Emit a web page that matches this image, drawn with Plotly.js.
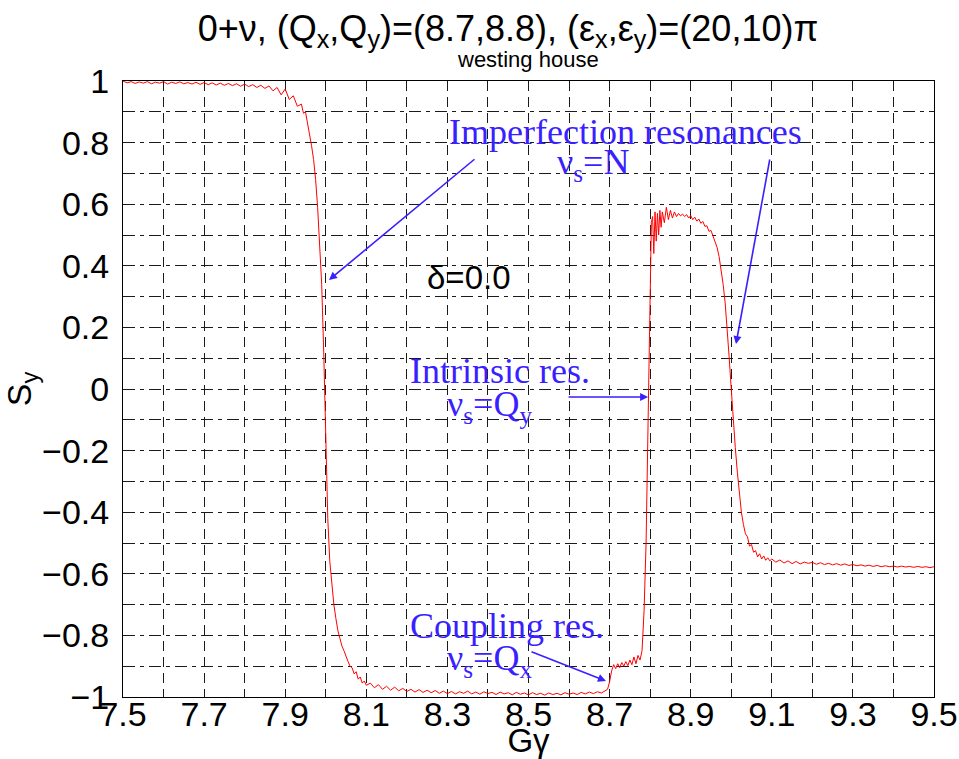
<!DOCTYPE html>
<html>
<head>
<meta charset="utf-8">
<script src="https://cdn.plot.ly/plotly-3.0.1.min.js"></script>
<style>html,body{margin:0;padding:0;background:#fff;}#chart{width:959px;height:759px;}</style>
</head>
<body>
<div id="chart"></div>
<script>
// Top plateau
const xTop = [7.50,7.51,7.52,7.53,7.54,7.55,7.56,7.57,7.58,7.59,7.60,7.61,7.62,7.63,7.64,7.65,7.66,7.67,7.68,7.69,7.70,7.71,7.72,7.73,7.74,7.75,7.76,7.77,7.78,7.79,7.80,7.81,7.82,7.83,7.84,7.85];
const yTop = [1.000,0.994,0.998,0.992,0.997,0.993,0.998,0.991,0.996,0.993,0.998,0.990,0.996,0.992,0.997,0.991,0.995,0.990,0.996,0.989,0.995,0.988,0.994,0.987,0.993,0.986,0.992,0.985,0.991,0.983,0.990,0.982,0.988,0.979,0.986,0.976];
// First imperfection resonance (drop)
const xDrop = [7.86,7.87,7.88,7.89,7.90,7.91,7.92,7.93,7.94,7.945,7.95,7.955,7.96,7.965,7.97,7.975,7.98,7.985,7.99,7.995,8.00,8.005,8.01,8.015,8.02,8.025,8.03,8.035,8.04,8.045,8.05,8.055,8.06,8.065,8.07,8.075,8.08,8.085,8.09,8.095,8.10];
const yDrop = [0.984,0.968,0.979,0.955,0.974,0.940,0.952,0.918,0.925,0.895,0.900,0.865,0.835,0.790,0.745,0.680,0.590,0.470,0.340,0.120,-0.160,-0.420,-0.560,-0.640,-0.700,-0.745,-0.785,-0.810,-0.835,-0.850,-0.870,-0.885,-0.900,-0.905,-0.925,-0.918,-0.942,-0.935,-0.955,-0.948,-0.962];
// Bottom plateau
const xBottom = [8.11,8.12,8.13,8.14,8.15,8.16,8.17,8.18,8.19,8.20,8.21,8.22,8.23,8.24,8.25,8.26,8.27,8.28,8.29,8.30,8.31,8.32,8.33,8.34,8.35,8.36,8.37,8.38,8.39,8.40,8.41,8.42,8.43,8.44,8.45,8.46,8.47,8.48,8.49,8.50,8.51,8.52,8.53,8.54,8.55,8.56,8.57,8.58,8.59,8.60,8.61,8.62,8.63,8.64,8.65,8.66,8.67,8.68,8.69];
const yBottom = [-0.955,-0.970,-0.960,-0.975,-0.965,-0.978,-0.968,-0.980,-0.972,-0.982,-0.975,-0.984,-0.976,-0.985,-0.978,
  -0.986,-0.979,-0.988,-0.981,-0.989,-0.982,-0.990,-0.983,-0.988,-0.981,
  -0.990,-0.984,-0.991,-0.983,-0.989,-0.985,-0.992,-0.984,-0.990,-0.986,
  -0.993,-0.985,-0.991,-0.987,-0.993,-0.986,-0.992,-0.988,-0.994,-0.987,
  -0.992,-0.988,-0.993,-0.986,-0.991,-0.987,-0.992,-0.985,-0.990,-0.984,
  -0.989,-0.983,-0.987,-0.980];
// Coupling resonance step and shelf
const xShelf = [8.695,8.700,8.705,8.710,8.715,8.720,8.725,8.730,8.735,8.740,8.745,8.750,8.755,8.760,8.765,8.770,8.775,8.780,8.785,8.790,8.795];
const yShelf = [-0.975,-0.950,-0.915,-0.895,-0.908,-0.892,-0.905,-0.888,-0.900,-0.885,-0.898,-0.880,-0.895,-0.870,-0.892,-0.865,-0.880,-0.850,-0.720,-0.500,-0.100];
// Upper plateau after intrinsic resonance
const xUpper = [8.800,8.803,8.806,8.809,8.812,8.815,8.818,8.821,8.824,8.827,8.830,8.835,8.840,8.845,8.850,8.855,8.860,8.865,8.870,8.875,8.880,8.885,8.890,8.895,8.900,8.905,8.910,8.915,8.920,8.925,8.930,8.935,8.940,8.945,8.950,8.955,8.960];
const yUpper = [0.400,0.540,0.560,0.440,0.575,0.480,0.570,0.500,0.580,0.525,0.575,0.540,0.590,0.550,0.580,0.555,0.575,0.560,0.570,0.562,0.568,0.560,0.566,0.555,0.563,0.550,0.558,0.545,0.552,0.538,0.544,0.528,0.530,0.512,0.515,0.495,0.480];
// Second imperfection resonance (fall)
const xFall = [8.965,8.970,8.975,8.980,8.985,8.990,8.995,9.000,9.005,9.010,9.015,9.020,9.025,9.030,9.035,9.040,9.045,9.050,9.055,9.060,9.065,9.070,9.075,9.080,9.085,9.090,9.095,9.100];
const yFall = [0.460,0.430,0.390,0.340,0.280,0.200,0.100,0.000,-0.110,-0.190,-0.270,-0.340,-0.400,-0.440,-0.470,-0.480,-0.510,-0.505,-0.530,-0.525,-0.545,-0.535,-0.552,-0.542,-0.556,-0.548,-0.558,-0.552];
// Tail
const xTail = [9.11,9.12,9.13,9.14,9.15,9.16,9.17,9.18,9.19,9.20,9.21,9.22,9.23,9.24,9.25,9.26,9.27,9.28,9.29,9.30,9.31,9.32,9.33,9.34,9.35,9.36,9.37,9.38,9.39,9.40,9.41,9.42,9.43,9.44,9.45,9.46,9.47,9.48,9.49,9.50];
const yTail = [-0.562,-0.555,-0.565,-0.558,-0.567,-0.560,-0.568,-0.562,-0.566,-0.563,
  -0.569,-0.564,-0.570,-0.566,-0.571,-0.567,-0.572,-0.568,-0.573,-0.570,
  -0.574,-0.571,-0.575,-0.572,-0.576,-0.573,-0.577,-0.574,-0.577,-0.575,
  -0.578,-0.575,-0.578,-0.576,-0.579,-0.576,-0.579,-0.577,-0.580,-0.577];

const xTickVals = [7.5,7.7,7.9,8.1,8.3,8.5,8.7,8.9,9.1,9.3,9.5];
const yTickVals = [-1,-0.8,-0.6,-0.4,-0.2,0,0.2,0.4,0.6,0.8,1];

const xs = [].concat(xTop, xDrop, xBottom, xShelf, xUpper, xFall, xTail);
const ys = [].concat(yTop, yDrop, yBottom, yShelf, yUpper, yFall, yTail);

const SANS = '"Liberation Sans", Arial, Helvetica, sans-serif';
const SERIF = '"Liberation Serif", "Times New Roman", serif';
const BLUE = '#3a1fff';
const GRID = '#1a1a1a';

const trace = {
  x: xs, y: ys, type: 'scatter', mode: 'lines',
  line: {color: '#ff0000', width: 1},
  hoverinfo: 'skip', showlegend: false
};
// invisible companion so the tick-label axis (x2) is drawn
const labelCarrier = {
  x: xs, y: ys, xaxis: 'x2', yaxis: 'y', type: 'scatter', mode: 'lines',
  line: {color: 'rgba(0,0,0,0)', width: 0}, opacity: 0,
  hoverinfo: 'skip', showlegend: false
};

function label(text, x, y, opts) {
  return Object.assign({
    text: text, x: x, y: y, xref: 'x', yref: 'y', showarrow: false,
    xanchor: 'center', yanchor: 'middle',
    font: {family: SERIF, size: 36, color: BLUE}
  }, opts || {});
}
function arrow(xh, yh, xt, yt) {
  return {
    text: '', x: xh, y: yh, ax: xt, ay: yt, xref: 'x', yref: 'y', axref: 'x', ayref: 'y',
    showarrow: true, arrowhead: 2, arrowsize: 1, arrowwidth: 1.6, arrowcolor: BLUE,
    standoff: 0, startstandoff: 0
  };
}

const layout = {
  width: 959, height: 759,
  margin: {l: 123, r: 25, t: 81, b: 62, pad: 0},
  paper_bgcolor: '#fff', plot_bgcolor: '#fff',
  title: {
    text: '0+ν, (Q<sub>x</sub>,Q<sub>y</sub>)=(8.7,8.8), (ε<sub>x</sub>,ε<sub>y</sub>)=(20,10)π',
    font: {family: SANS, size: 36, color: '#000'},
    x: 508/959, xref: 'container', xanchor: 'center',
    y: 1 - 28/759, yref: 'container', yanchor: 'middle'
  },
  xaxis: {
    range: [7.5, 9.5], tickmode: 'array', tickvals: xTickVals,
    ticks: '', showline: true, mirror: true, linecolor: '#000', linewidth: 1,
    showgrid: true, gridcolor: GRID, gridwidth: 1, griddash: '10px,6px',
    minor: {dtick: 0.1, tick0: 7.5, showgrid: true, gridcolor: GRID, gridwidth: 1, griddash: '10px,6px', ticks: ''},
    zeroline: false, showticklabels: false,
    automargin: false
  },
  xaxis2: {
    range: [7.5, 9.5], overlaying: 'x', anchor: 'free', position: 6/616, side: 'bottom',
    tickmode: 'array', tickvals: xTickVals,
    ticks: '', showline: false, showgrid: false, zeroline: false,
    tickfont: {family: SANS, size: 34, color: '#000'},
    title: {text: 'Gγ', font: {family: SANS, size: 33, color: '#000'}, standoff: 12},
    automargin: false
  },
  yaxis: {
    range: [-1, 1], tickmode: 'array', tickvals: yTickVals,
    ticks: '', showline: true, mirror: true, linecolor: '#000', linewidth: 1,
    showgrid: true, gridcolor: GRID, gridwidth: 1, griddash: '12px,5px,4px,5px',
    minor: {dtick: 0.1, tick0: -1, showgrid: true, gridcolor: GRID, gridwidth: 1, griddash: '12px,5px,4px,5px', ticks: ''},
    zeroline: false,
    tickfont: {family: SANS, size: 34, color: '#000'},
    ticklabelstandoff: 6,
    title: {text: 'S<sub>y</sub>', font: {family: SANS, size: 34, color: '#000'}, standoff: 2},
    automargin: false
  },
  annotations: [
    {text: 'westing house', xref: 'paper', yref: 'paper', x: (528-123)/811, y: 1 + (81-60)/616,
     xanchor: 'center', yanchor: 'middle', showarrow: false,
     font: {family: SANS, size: 22, color: '#000'}},
    label('Imperfection resonances', 8.7404, 0.834),
    label('ν<sub>s</sub>=N', 8.659, 0.7305),
    label('Intrinsic res.', 8.4297, 0.0584),
    label('ν<sub>s</sub>=Q<sub>y</sub>', 8.404, -0.0552),
    label('Coupling res.', 8.447, -0.7695),
    label('ν<sub>s</sub>=Q<sub>x</sub>', 8.404, -0.880),
    label('δ=0.0', 8.353, 0.3636, {font: {family: SANS, size: 33, color: '#000'}}),
    arrow(8.008, 0.354, 8.3705, 0.75),
    arrow(9.0117, 0.146, 9.0956, 0.75),
    arrow(8.795, -0.026, 8.595, -0.026),
    arrow(8.691, -0.948, 8.5037, -0.851)
  ]
};

Plotly.newPlot('chart', [trace, labelCarrier], layout, {displayModeBar: false, staticPlot: true});
</script>
</body>
</html>
